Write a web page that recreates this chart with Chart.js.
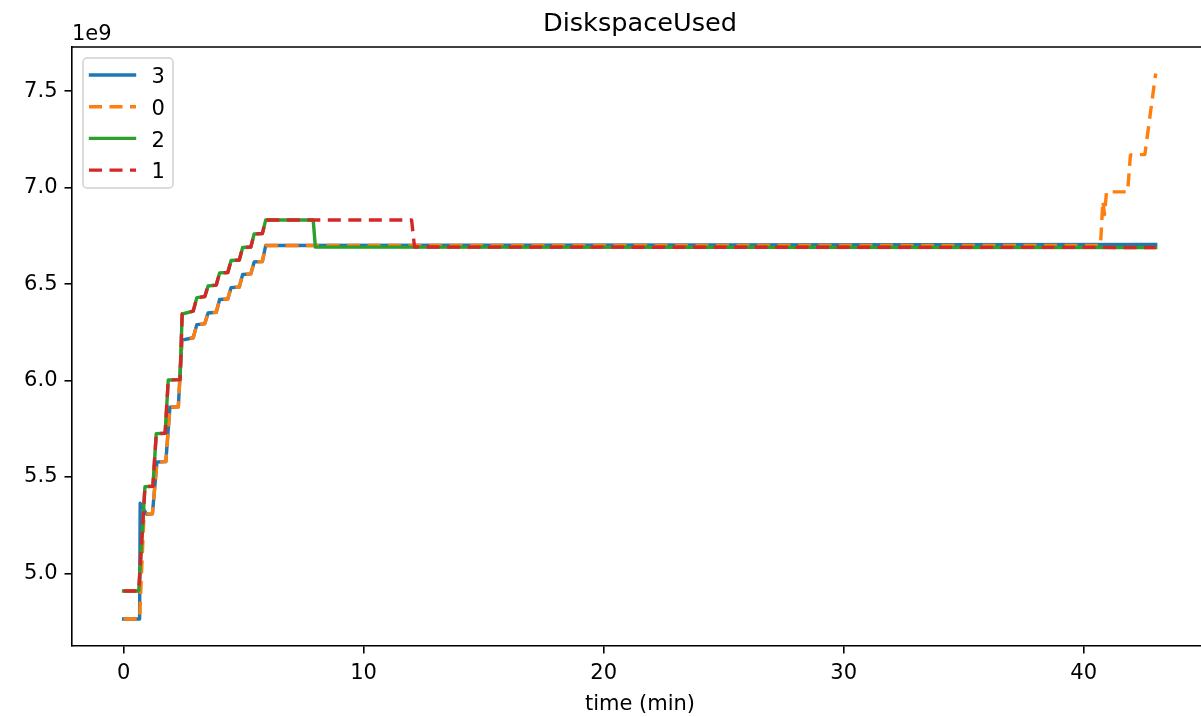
<!DOCTYPE html>
<html><head><meta charset="utf-8">
<script src="https://cdn.jsdelivr.net/npm/chart.js@4.4.1/dist/chart.umd.min.js"></script>
<style>html,body{margin:0;padding:0;background:#fff;overflow:hidden;width:1201px;height:717px}#wrap{width:1201px;height:717px;position:relative;overflow:hidden}</style>
</head><body><div id="wrap"><canvas id="c" width="1208" height="717"></canvas></div>
<script>
// ---- data (time in minutes, disk space used in bytes) ----
const seriesNames = ['3', '0', '2', '1'];
const seriesColors = ['#1f77b4', '#ff7f0e', '#2ca02c', '#d62728'];
const xTicks = [0, 10, 20, 30, 40];
const yTicks = [5.0e9, 5.5e9, 6.0e9, 6.5e9, 7.0e9, 7.5e9];

// series "3"
const t3 = [0, 0.667, 0.69, 0.96, 1.20, 1.39, 1.76, 1.93, 2.28, 2.43, 2.90, 3.05, 3.38, 3.52, 3.86, 4.00, 4.34, 4.48, 4.82, 4.96, 5.30, 5.44, 5.78, 5.92, 43.0];
const v3 = [4.764e9, 4.764e9, 5.364e9, 5.307e9, 5.309e9, 5.578e9, 5.580e9, 5.862e9, 5.864e9, 6.210e9, 6.222e9, 6.290e9, 6.294e9, 6.350e9, 6.354e9, 6.420e9, 6.423e9, 6.482e9, 6.485e9, 6.550e9, 6.553e9, 6.615e9, 6.617e9, 6.700e9, 6.705e9];

// series "0"
const t0 = [0, 0.667, 0.85, 1.20, 1.39, 1.76, 1.93, 2.28, 2.43, 2.90, 3.05, 3.38, 3.52, 3.86, 4.00, 4.34, 4.48, 4.82, 4.96, 5.30, 5.44, 5.78, 5.92, 40.70, 40.80, 40.87, 40.95, 41.83, 41.95, 42.55, 43.0];
const v0 = [4.764e9, 4.764e9, 5.307e9, 5.309e9, 5.578e9, 5.580e9, 5.862e9, 5.864e9, 6.210e9, 6.222e9, 6.290e9, 6.294e9, 6.350e9, 6.354e9, 6.420e9, 6.423e9, 6.482e9, 6.485e9, 6.550e9, 6.553e9, 6.615e9, 6.617e9, 6.700e9, 6.700e9, 6.930e9, 6.860e9, 6.978e9, 6.978e9, 7.170e9, 7.172e9, 7.592e9];

// series "2"
const t2 = [0, 0.63, 0.89, 1.22, 1.36, 1.73, 1.86, 2.35, 2.44, 2.90, 3.05, 3.38, 3.52, 3.86, 4.00, 4.34, 4.48, 4.82, 4.96, 5.30, 5.44, 5.78, 5.92, 7.90, 7.99, 43.0];
const v2 = [4.909e9, 4.909e9, 5.450e9, 5.452e9, 5.725e9, 5.727e9, 6.003e9, 6.005e9, 6.345e9, 6.360e9, 6.430e9, 6.435e9, 6.490e9, 6.495e9, 6.558e9, 6.560e9, 6.622e9, 6.625e9, 6.690e9, 6.692e9, 6.760e9, 6.762e9, 6.832e9, 6.832e9, 6.692e9, 6.690e9];

// series "1"
const t1 = [0, 0.63, 0.89, 1.22, 1.36, 1.73, 1.86, 2.35, 2.44, 2.90, 3.05, 3.38, 3.52, 3.86, 4.00, 4.34, 4.48, 4.82, 4.96, 5.30, 5.44, 5.78, 5.92, 12.00, 12.12, 43.0];
const v1 = [4.909e9, 4.909e9, 5.450e9, 5.452e9, 5.725e9, 5.727e9, 6.003e9, 6.005e9, 6.345e9, 6.360e9, 6.430e9, 6.435e9, 6.490e9, 6.495e9, 6.558e9, 6.560e9, 6.622e9, 6.625e9, 6.690e9, 6.692e9, 6.760e9, 6.762e9, 6.832e9, 6.832e9, 6.692e9, 6.690e9];

// ---- build ----
const FONT = 'DejaVu Sans';
const FS = 21;
Chart.defaults.font.family = FONT;
Chart.defaults.color = '#000';

const seriesT = [t3, t0, t2, t1];
const seriesV = [v3, v0, v2, v1];
const dashes = [[], [13, 7.5], [], [13, 7.5]];
const orders = [3, 2, 1, 0];

const datasets = seriesNames.map((name, i) => ({
  label: name,
  data: seriesT[i].map((t, k) => ({x: t, y: seriesV[i][k]})),
  borderColor: seriesColors[i],
  backgroundColor: seriesColors[i],
  borderWidth: 3.4,
  borderDash: dashes[i],
  borderCapStyle: dashes[i].length ? 'butt' : 'square',
  borderJoinStyle: 'round',
  pointRadius: 0,
  pointHoverRadius: 0,
  tension: 0,
  fill: false,
  order: orders[i]
}));

const framePlugin = {
  id: 'frame',
  afterDraw(chart) {
    const {ctx, chartArea: a} = chart;
    ctx.save();
    // top and right spines
    ctx.strokeStyle = '#000';
    ctx.lineWidth = 1.6;
    ctx.beginPath();
    ctx.moveTo(a.left - 0.8, a.top);
    ctx.lineTo(a.right - 0.8, a.top);
    ctx.lineTo(a.right - 0.8, a.bottom);
    ctx.stroke();
    // offset text
    ctx.fillStyle = '#000';
    ctx.font = FS + 'px "' + FONT + '"';
    ctx.textAlign = 'left';
    ctx.textBaseline = 'alphabetic';
    ctx.fillText('1e9', a.left, a.top - 7);
    // legend
    const L = {x: 83, y: 58, w: 90, h: 130, r: 4};
    ctx.beginPath();
    ctx.roundRect(L.x, L.y, L.w, L.h, L.r);
    ctx.fillStyle = 'rgba(255,255,255,0.8)';
    ctx.fill();
    ctx.strokeStyle = 'rgba(204,204,204,0.9)';
    ctx.lineWidth = 1.5;
    ctx.stroke();
    chart.data.datasets.forEach((ds, i) => {
      const y = 75 + i * 31.7;
      ctx.strokeStyle = ds.borderColor;
      ctx.lineWidth = ds.borderWidth;
      ctx.setLineDash(ds.borderDash);
      ctx.lineCap = ds.borderCapStyle;
      ctx.beginPath();
      if (ds.borderDash.length) { ctx.moveTo(89, y); ctx.lineTo(136, y); }
      else { ctx.moveTo(90.5, y); ctx.lineTo(134.5, y); }
      ctx.stroke();
      ctx.setLineDash([]);
      ctx.fillStyle = '#000';
      ctx.fillText(ds.label, 151.5, y + 8.3);
    });
    ctx.restore();
  }
};

const axisCommon = {
  type: 'linear',
  grid: {display: true, drawOnChartArea: false, drawTicks: true, tickLength: 7.5, color: '#000', lineWidth: 1.6},
  border: {display: true, color: '#000', width: 1.6}
};

new Chart(document.getElementById('c'), {
  type: 'line',
  data: {datasets},
  plugins: [framePlugin],
  options: {
    responsive: false,
    animation: false,
    devicePixelRatio: 1,
    events: [],
    layout: {padding: 0},
    plugins: {
      legend: {display: false},
      tooltip: {enabled: false},
      title: {display: true, text: 'DiskspaceUsed', fullSize: false, color: '#000',
              font: {size: 25.6, weight: 'normal', family: FONT, lineHeight: 1.2},
              padding: {top: 9.2, bottom: 7.1}}
    },
    scales: {
      x: Object.assign({}, axisCommon, {
        min: -2.15, max: 45.18,
        afterBuildTicks: s => { s.ticks = xTicks.map(v => ({value: v})); },
        afterFit: s => { s.height = 71; },
        ticks: {font: {size: FS}, color: '#000', padding: 7, maxRotation: 0, autoSkip: false},
        title: {display: true, text: 'time (min)', color: '#000', font: {size: FS, lineHeight: 1.2}, padding: {top: 0, bottom: 0}}
      }),
      y: Object.assign({}, axisCommon, {
        min: 4.624e9, max: 7.729e9,
        afterBuildTicks: s => { s.ticks = yTicks.map(v => ({value: v})); },
        afterFit: s => { s.width = 72; },
        ticks: {font: {size: FS}, color: '#000', padding: 7, autoSkip: false,
                callback: v => (v / 1e9).toFixed(1)}
      })
    }
  }
});
</script>
</body></html>
